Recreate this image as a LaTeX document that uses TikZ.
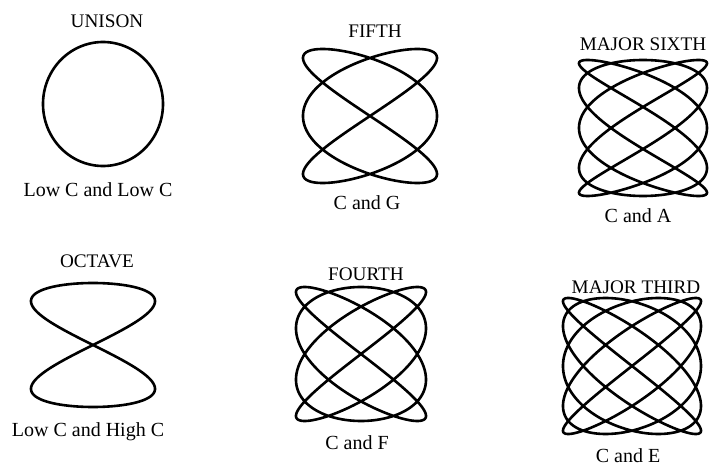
\documentclass[tikz,border=0pt]{standalone}
\usepackage{fontspec}
\setmainfont{Liberation Serif}
\tikzstyle{title} = [font=\fontsize{9.6}{11}\selectfont, anchor=base, inner sep=0pt]
\tikzstyle{notes} = [font=\fontsize{10}{12}\selectfont, anchor=base, inner sep=0pt]
\tikzstyle{curve} = [line width=1.3pt, line join=round]
% centre x, centre y, half width, half height, x rate, y rate, y phase
\newcommand{\lissajous}[7]{\draw [curve] plot [domain=0:360, samples=900] ({#1+#3*sin(#5*\x)}, {#2+#4*sin(#6*\x+#7)});}

\begin{document}
\begin{tikzpicture}[x=0.5pt, y=-0.5pt]
\useasboundingbox (0,0) rectangle (709,466);

% Titles
\node (unison) [title] at (107,27) {UNISON};
\node (fifth) [title] at (375,38) {FIFTH};
\node (sixth) [title] at (643,51) {MAJOR SIXTH};
\node (octave) [title] at (97,268) {OCTAVE};
\node (fourth) [title] at (366,280) {FOURTH};
\node (third) [title] at (636,293) {MAJOR THIRD};

% Notes
\node (unisonnotes) [notes] at (98,197) {Low C and Low C};
\node (fifthnotes) [notes] at (367,209) {C and G};
\node (sixthnotes) [notes] at (638,222) {C and A};
\node (octavenotes) [notes] at (88,437) {Low C and High C};
\node (fourthnotes) [notes] at (357,450) {C and F};
\node (thirdnotes) [notes] at (628,462) {C and E};

% Figures
\lissajous{103}{104}{60}{62}{1}{1}{90}
\lissajous{370}{116}{67}{67}{3}{2}{0}
\lissajous{643}{128}{64}{68}{5}{3}{90}
\lissajous{93}{345}{62}{62}{2}{1}{0}
\lissajous{361}{354}{65}{67}{4}{3}{0}
\lissajous{632}{366}{69}{68}{5}{4}{0}

\end{tikzpicture}
\end{document}
